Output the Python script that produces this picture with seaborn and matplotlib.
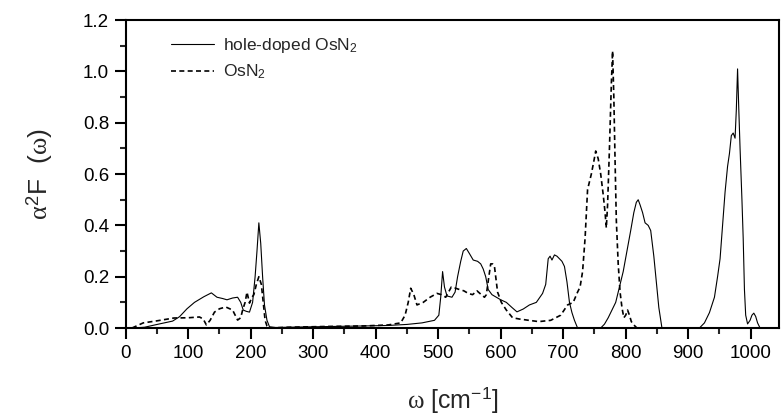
import seaborn as sns
import pandas as pd
import matplotlib.pyplot as plt
from matplotlib.ticker import MultipleLocator

# ---------------------------- data ----------------------------

doped_w = [10, 30, 54, 75, 86, 98, 110, 125, 137, 146,
           155, 162, 171, 179, 184, 188, 193, 198, 203, 207,
           210, 213, 216, 219, 222, 226, 230, 240, 280, 330,
           380, 420, 450, 474, 494, 501, 504, 507, 510, 514,
           522, 527, 531, 536, 540, 545, 550, 556, 563, 568,
           572, 576, 580, 586, 593, 600, 609, 618, 626, 636,
           646, 657, 667, 672, 676, 679, 682, 686, 690, 694,
           698, 702, 706, 710, 714, 718, 723, 760, 766, 772,
           778, 784, 790, 796, 802, 808, 813, 817, 820, 823,
           827, 831, 836, 840, 845, 849, 853, 858, 918, 926,
           934, 942, 947, 951, 955, 959, 963, 966, 969, 972,
           975, 977, 979, 981, 983, 986, 988, 990, 992, 995,
           999, 1002, 1005, 1008, 1011, 1015]
doped_a2f = [0.0, 0.003, 0.016, 0.027, 0.044, 0.075, 0.1, 0.122, 0.137, 0.12,
             0.115, 0.11, 0.117, 0.12, 0.1, 0.07, 0.065, 0.062, 0.1, 0.2,
             0.3, 0.41, 0.33, 0.2, 0.09, 0.03, 0.005, 0.002, 0.004, 0.006,
             0.008, 0.01, 0.014, 0.02, 0.03, 0.05, 0.12, 0.22, 0.16, 0.125,
             0.12, 0.14, 0.2, 0.26, 0.3, 0.31, 0.29, 0.265, 0.26, 0.25,
             0.23, 0.2, 0.15, 0.13, 0.12, 0.11, 0.1, 0.08, 0.063, 0.074,
             0.09, 0.1, 0.135, 0.17, 0.27, 0.28, 0.265, 0.285, 0.28, 0.27,
             0.26, 0.24, 0.18, 0.1, 0.06, 0.03, 0.0, 0.0, 0.015, 0.04,
             0.07, 0.1, 0.16, 0.22, 0.3, 0.38, 0.45, 0.49, 0.5, 0.48,
             0.45, 0.41, 0.4, 0.38, 0.28, 0.18, 0.08, 0.0, 0.0, 0.02,
             0.06, 0.12, 0.2, 0.27, 0.4, 0.53, 0.63, 0.68, 0.75, 0.76,
             0.74, 0.85, 1.01, 0.85, 0.7, 0.5, 0.35, 0.15, 0.05, 0.016,
             0.03, 0.05, 0.058, 0.045, 0.02, 0.0]

pure_w = [10, 28, 50, 77, 100, 118, 124, 129, 135, 142,
          150, 160, 171, 179, 184, 187, 191, 194, 198, 202,
          205, 209, 213, 217, 220, 223, 226, 230, 260, 320,
          380, 420, 440, 447, 452, 456, 461, 466, 471, 476,
          487, 498, 505, 512, 521, 528, 534, 541, 548, 555,
          562, 569, 574, 577, 581, 584, 587, 590, 595, 601,
          609, 619, 630, 645, 661, 680, 696, 707, 716, 723,
          727, 731, 735, 739, 745, 749, 752, 756, 760, 764,
          767, 769, 771, 774, 777, 779, 781, 783, 785, 788,
          791, 794, 797, 800, 803, 806, 809, 813, 818]
pure_a2f = [0.0, 0.02, 0.028, 0.039, 0.04, 0.043, 0.035, 0.012, 0.03, 0.062,
            0.075, 0.082, 0.07, 0.031, 0.04, 0.07, 0.1, 0.14, 0.097, 0.12,
            0.13, 0.17, 0.2, 0.17, 0.1, 0.03, 0.008, 0.0, 0.003, 0.006,
            0.008, 0.012, 0.02, 0.05, 0.1, 0.155, 0.13, 0.09, 0.095, 0.1,
            0.12, 0.135, 0.13, 0.12, 0.16, 0.155, 0.15, 0.145, 0.135, 0.13,
            0.145, 0.13, 0.12, 0.13, 0.2, 0.25, 0.25, 0.24, 0.14, 0.1,
            0.07, 0.04, 0.035, 0.03, 0.025, 0.03, 0.05, 0.09, 0.1, 0.14,
            0.16, 0.22, 0.35, 0.54, 0.6, 0.65, 0.69, 0.66, 0.6, 0.52,
            0.45, 0.39, 0.48, 0.7, 0.95, 1.08, 0.9, 0.65, 0.42, 0.25,
            0.14, 0.08, 0.04, 0.05, 0.07, 0.05, 0.025, 0.012, 0.0]

# ---------------------------------- plot ----------------------------------

sns.set_style("ticks")
plt.rcParams["font.family"] = ["Liberation Sans", "DejaVu Sans"]
plt.rcParams["mathtext.fontset"] = "custom"
plt.rcParams["mathtext.rm"] = "Liberation Sans"
plt.rcParams["mathtext.it"] = "Liberation Serif"

fig = plt.figure(figsize=(7.81, 4.2), dpi=100)
ax = fig.add_axes([0.161, 0.219, 0.837, 0.733])

doped = pd.DataFrame({"w": doped_w, "a2f": doped_a2f})
pure = pd.DataFrame({"w": pure_w, "a2f": pure_a2f})

sns.lineplot(data=doped, x="w", y="a2f", ax=ax, color="black", linewidth=0.8,
             label="hole-doped OsN$_2$")
sns.lineplot(data=pure, x="w", y="a2f", ax=ax, color="black", linewidth=1.2,
             linestyle=(0, (3, 2)), label="OsN$_2$")

ax.set_xlim(0, 1046)
ax.set_ylim(0, 1.2)
ax.xaxis.set_major_locator(MultipleLocator(100))
ax.xaxis.set_minor_locator(MultipleLocator(50))
ax.yaxis.set_major_locator(MultipleLocator(0.2))
ax.yaxis.set_minor_locator(MultipleLocator(0.1))
ax.yaxis.set_major_formatter(plt.FormatStrFormatter("%.1f"))

ax.tick_params(which="major", direction="out", length=8, width=1.5, labelsize=13.5,
               colors="black", pad=4)
ax.tick_params(which="minor", direction="out", length=4.5, width=1.5)
ax.tick_params(top=False, right=False, which="both")

for s in ax.spines.values():
    s.set_visible(True)
    s.set_linewidth(1.5)
    s.set_color("black")

ax.set_xlabel(r"$\omega$ [cm$^{-1}$]", fontsize=18, labelpad=17)
ax.set_ylabel(r"$\alpha^2$F  ($\omega$)", fontsize=19, labelpad=20)

leg = ax.legend(loc="upper left", bbox_to_anchor=(0.045, 1.0), frameon=False,
                fontsize=12.5, handlelength=2.5, handletextpad=0.5, labelspacing=0.45)

plt.savefig("out.png", dpi=100)
